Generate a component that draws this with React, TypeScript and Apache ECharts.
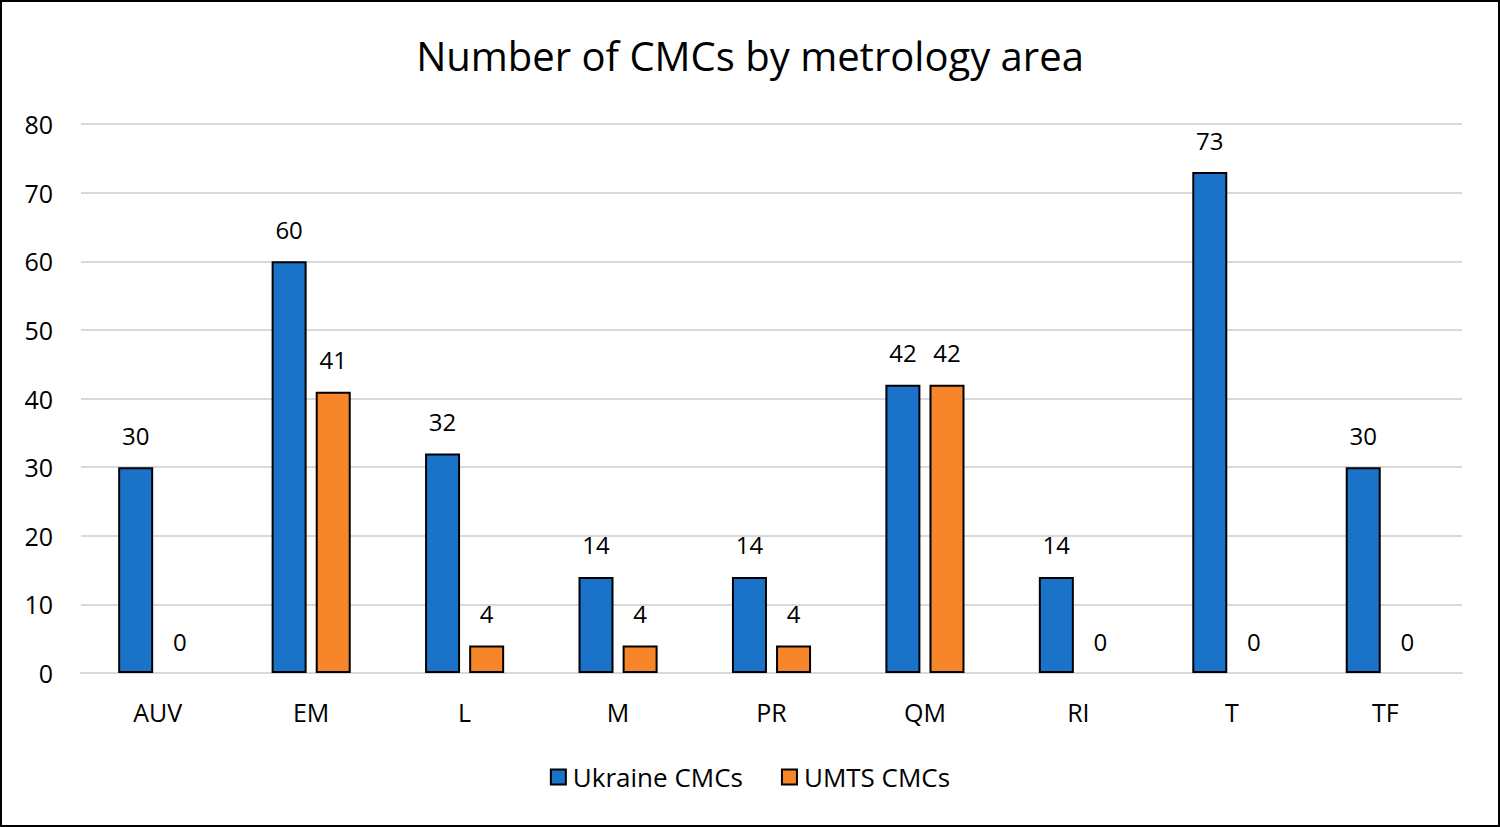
import React, { useEffect, useRef } from "react";
import * as echarts from "echarts";

const categories = ["AUV", "EM", "L", "M", "PR", "QM", "RI", "T", "TF"];
const ukraineCMCs = [30, 60, 32, 14, 14, 42, 14, 73, 30];
const umtsCMCs = [0, 41, 4, 4, 4, 42, 0, 0, 0];
const yTicks = { min: 0, max: 80, interval: 10 };

const FONT = "'Open Sans', 'Noto Sans', sans-serif";

export default function App() {
  const ref = useRef<HTMLDivElement>(null);
  useEffect(() => {
    document.body.style.margin = "0";
    const chart = echarts.init(ref.current!, null, { renderer: "svg" });
    const mk = (vals: number[]) =>
      vals.map((v) => (v === 0 ? { value: v, itemStyle: { borderWidth: 0 } } : { value: v }));
    const lbl = {
      show: true,
      position: "top",
      distance: 20,
      fontFamily: FONT,
      fontSize: 24,
      color: "#000",
    };
    chart.setOption({
      animation: false,
      backgroundColor: "#ffffff",
      title: {
        text: "Number of CMCs by metrology area",
        left: "center",
        top: 28,
        textStyle: { fontFamily: FONT, fontSize: 40, fontWeight: "normal", color: "#000" },
      },
      legend: {
        bottom: 30,
        left: "center",
        icon: "rect",
        itemWidth: 15,
        itemHeight: 15,
        itemGap: 38,
        textStyle: { fontFamily: FONT, fontSize: 26, color: "#000", padding: [0, 0, 0, 2] },
        data: ["Ukraine CMCs", "UMTS CMCs"],
      },
      grid: { left: 79, right: 36, top: 122, bottom: 152, containLabel: false },
      xAxis: {
        type: "category",
        data: categories,
        axisLine: { lineStyle: { color: "#d9d9d9", width: 2 } },
        axisTick: { show: false },
        axisLabel: { fontFamily: FONT, fontSize: 25, color: "#000", margin: 26 },
      },
      yAxis: {
        type: "value",
        min: yTicks.min,
        max: yTicks.max,
        interval: yTicks.interval,
        axisLine: { show: false },
        axisTick: { show: false },
        splitLine: { lineStyle: { color: "#d9d9d9", width: 2 } },
        axisLabel: { fontFamily: FONT, fontSize: 25, color: "#000", margin: 28 },
      },
      series: [
        {
          name: "Ukraine CMCs",
          type: "bar",
          data: mk(ukraineCMCs),
          barWidth: 35,
          barGap: "26%",
          itemStyle: { color: "#1a73c9", borderColor: "#000", borderWidth: 2 },
          label: lbl,
        },
        {
          name: "UMTS CMCs",
          type: "bar",
          data: mk(umtsCMCs),
          barWidth: 35,
          itemStyle: { color: "#f7862a", borderColor: "#000", borderWidth: 2 },
          label: lbl,
        },
      ],
    });
    return () => chart.dispose();
  }, []);
  return (
    <div
      style={{
        position: "absolute",
        left: 0,
        top: 0,
        width: 1500,
        height: 827,
        boxSizing: "border-box",
        border: "2px solid #000",
        background: "#fff",
      }}
    >
      <div ref={ref} style={{ width: 1496, height: 823 }} />
    </div>
  );
}
